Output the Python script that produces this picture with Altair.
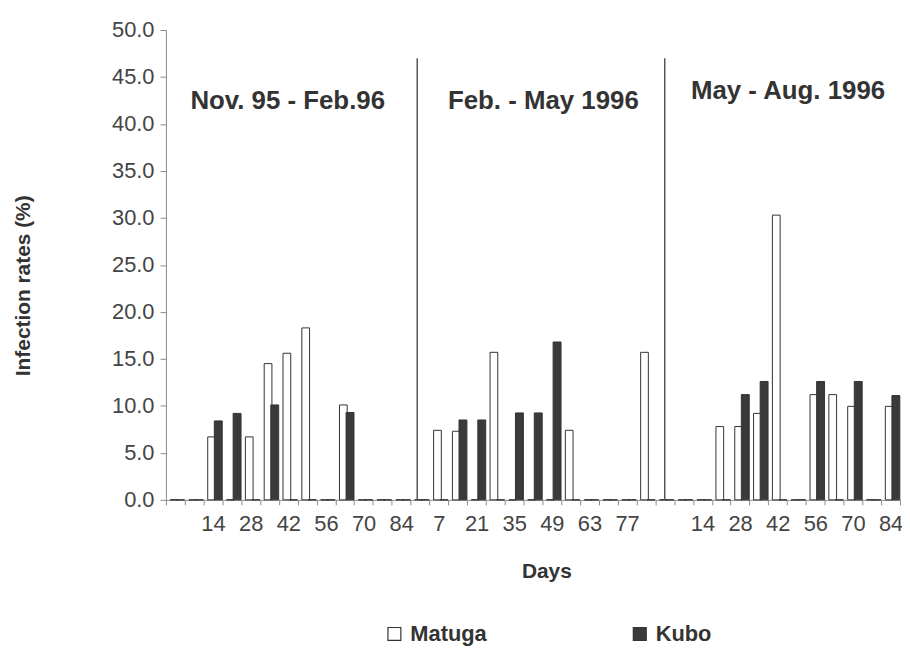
import json
import altair as alt
import pandas as pd

# ---------------- data ----------------
periods = ["Nov. 95 - Feb.96", "Feb. - May 1996", "May - Aug. 1996"]
days = [0, 7, 14, 21, 28, 35, 42, 49, 56, 63, 70, 77, 84]
matuga = [
    [0, 0, 6.7, 0, 6.7, 14.5, 15.6, 18.3, 0, 10.1, 0, 0, 0],
    [0, 7.4, 7.3, 0, 15.7, 0, 0, 0, 7.4, 0, 0, 0, 15.7],
    [0, 0, 0, 7.8, 7.8, 9.2, 30.3, 0, 11.2, 11.2, 9.95, 0, 9.95],
]
kubo = [
    [0, 0, 8.4, 9.2, 0, 10.1, 0, 0, 0, 9.3, 0, 0, 0],
    [0, 0, 8.5, 8.5, 0, 9.25, 9.25, 16.8, 0, 0, 0, 0, 0],
    [0, 0, 0, 0, 11.2, 12.6, 0, 0, 12.6, 0, 12.6, 0, 11.1],
]
tick_labels = [
    "", "", "14", "", "28", "", "42", "", "56", "", "70", "", "84",
    "", "7", "", "21", "", "35", "", "49", "", "63", "", "77", "",
    "", "", "14", "", "28", "", "42", "", "56", "", "70", "", "84", "",
]
# period title positions (category units / % units) and divider positions
title_x = [6.47, 20.05, 33.05]
title_y = [42.4, 42.4, 43.5]
divider_x = [13.35, 26.5]
divider_top = [47.0, 47.0]

series_names = ["Matuga", "Kubo"]
n_days = len(days)

rows = []
for p in range(len(periods)):
    for j, d in enumerate(days):
        slot = p * n_days + j
        rows.append({"slot": slot, "day": d, "series": "Matuga", "y": matuga[p][j]})
        rows.append({"slot": slot, "day": d, "series": "Kubo", "y": kubo[p][j]})
bars_df = pd.DataFrame(rows)

titles_df = pd.DataFrame({"x": title_x, "y": title_y, "label": periods})
div_df = pd.DataFrame({"x": divider_x, "y": [0.0, 0.0], "y2": divider_top})

FONT = "Liberation Sans"
TXT = "#333333"
AX = "#8a8a8a"

x_axis = alt.Axis(
    values=list(range(len(tick_labels))),
    labelExpr=json.dumps(tick_labels) + "[datum.value]",
    labelOffset=9.5,
    labelOverlap=False,
    labelFlush=False,
    labelBound=False,
    labelFontSize=22,
    labelColor="#444444",
    labelPadding=9,
    tickSize=5,
    tickColor=AX,
    domainColor=AX,
    grid=False,
    title="Days",
    titleFontSize=21,
    titleFontWeight="bold",
    titleColor=TXT,
    titleX=383,
    titleY=72,
    titleBaseline="middle",
    titleAnchor="middle",
)
y_axis = alt.Axis(
    values=[0, 5, 10, 15, 20, 25, 30, 35, 40, 45, 50],
    format=".1f",
    labelFontSize=22,
    labelColor="#444444",
    labelPadding=6,
    tickSize=6,
    tickColor=AX,
    domainColor=AX,
    grid=False,
    title="Infection rates (%)",
    titleFontSize=21,
    titleFontWeight="bold",
    titleColor=TXT,
    titleX=-143,
    titleY=257,
    titleBaseline="middle",
    titleAnchor="middle",
)

X = alt.X("x:Q", scale=alt.Scale(domain=[0, 39], nice=False, zero=False), axis=x_axis)
Y = alt.Y("y:Q", scale=alt.Scale(domain=[0, 50], nice=False), axis=y_axis)

color = alt.Color(
    "series:N",
    scale=alt.Scale(domain=series_names, range=["#ffffff", "#3a3a3a"]),
    legend=alt.Legend(
        orient="none",
        legendX=219,
        legendY=597,
        direction="horizontal",
        title=None,
        symbolType="square",
        symbolSize=169,
        symbolStrokeColor="#333333",
        symbolStrokeWidth=1.2,
        labelFont=FONT,
        labelFontSize=22,
        labelFontWeight="bold",
        labelColor=TXT,
        labelOffset=5,
        columnPadding=143,
        padding=0,
    ),
)

base = alt.Chart(bars_df)
matuga_bars = base.transform_filter(alt.datum.series == "Matuga").transform_calculate(
    x="datum.slot + 0.22", x2="datum.slot + 0.63"
).mark_bar(stroke="#333333", strokeWidth=1).encode(
    x=X, x2="x2:Q", y=Y, y2=alt.datum(0), color=color
)
kubo_bars = base.transform_filter(alt.datum.series == "Kubo").transform_calculate(
    x="datum.slot + 0.57", x2="datum.slot + 0.99"
).mark_bar(stroke="#333333", strokeWidth=1).encode(
    x=X, x2="x2:Q", y=Y, y2=alt.datum(0), color=color
)

dividers = alt.Chart(div_df).mark_rule(color="#555555", strokeWidth=1.5).encode(
    x=X, y=Y, y2="y2:Q"
)
titles = alt.Chart(titles_df).mark_text(
    font=FONT, fontSize=26, fontWeight="bold", color=TXT, baseline="middle"
).encode(x=X, y=Y, text="label:N")

chart = alt.layer(matuga_bars, kubo_bars, dividers, titles).properties(
    width=739,
    height=473,
    padding={"left": 159, "top": 20, "right": 2, "bottom": 150},
    autosize=alt.AutoSizeParams(type="none"),
).configure(font=FONT).configure_view(stroke=None)

chart.save("out.html", embed_options={"renderer": "svg", "actions": False})
